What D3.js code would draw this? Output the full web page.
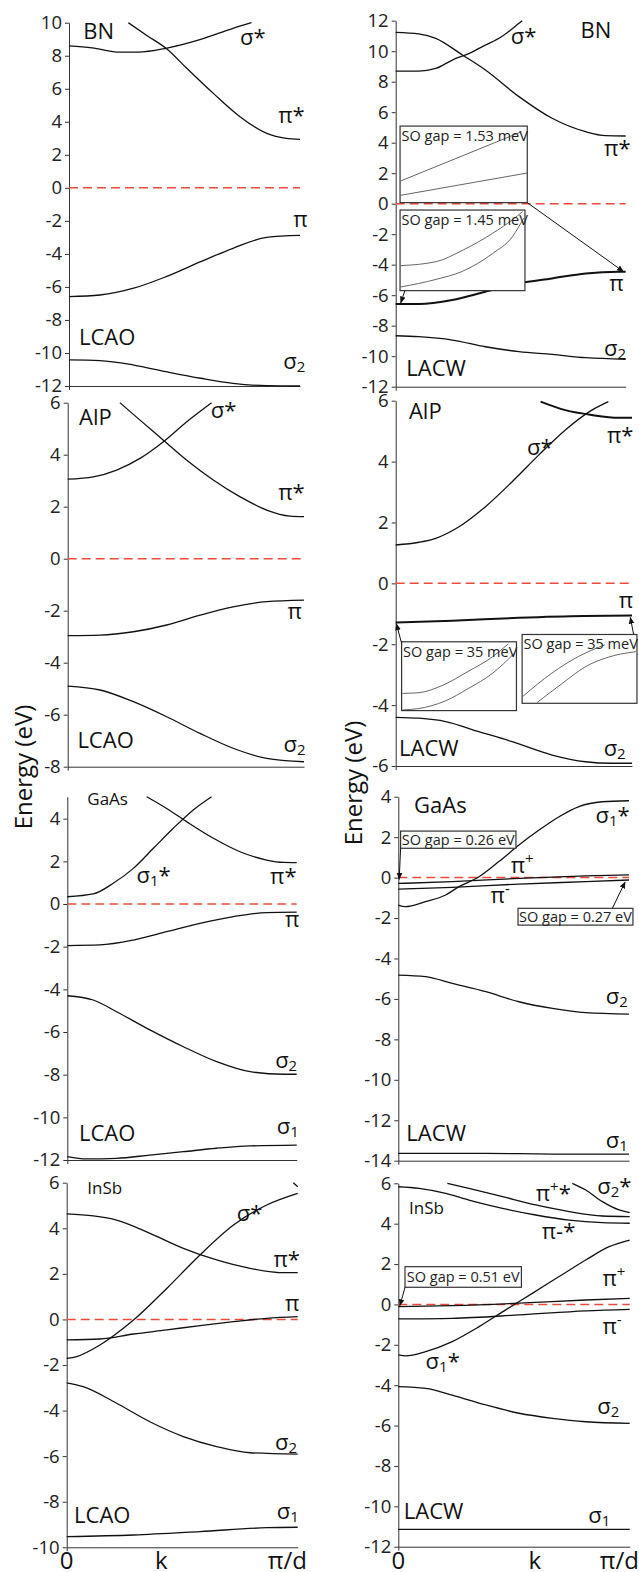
<!doctype html>
<html lang="en">
<head>
<meta charset="utf-8">
<title>Band structures: LCAO vs LACW</title>
<script src="https://cdn.jsdelivr.net/npm/d3@7"></script>
<style>
html, body { margin:0; padding:0; background:#fff; }
svg { display:block; font-family:"Open Sans", sans-serif; }
.band { fill:none; stroke:#111; stroke-width:1.3px; }
.band.thick { stroke-width:2px; }
.fermi { stroke:#ee4b3e; stroke-width:1.5px; stroke-dasharray:9,5; }
.axis path, .axis line { stroke:#333; stroke-width:1px; }
.axis text { font-family:"Open Sans", sans-serif; font-size:18.5px; fill:#222; }
.lbl { fill:#111; }
.lbl.name { font-size:22px; }
.lbl.small { font-size:17px; }
.lbl.band-name { font-size:22px; }
.inset rect, .sobox rect { fill:#fff; stroke:#333; stroke-width:1.2px; }
.inset path { fill:none; stroke:#555; stroke-width:0.9px; }
.inset text { font-size:14.5px; fill:#222; }
.sobox text { font-size:14.5px; fill:#222; }
.arrow { stroke:#111; stroke-width:1px; fill:none; }
.ylab { font-size:24px; fill:#111; }
.xlab { font-size:24px; fill:#111; }
</style>
</head>
<body>
<div id="chart"></div>
<script>
// ---- bands: [k (0..pi/d), E (eV)] ----
// BN, LCAO
const bnL_sigStar = [[0,8.6],[0.1,8.48],[0.22,8.22],[0.3,8.22],[0.42,8.45],[0.57,8.99],[0.71,9.66],[0.79,10]];
const bnL_piStar = [[0.257,10],[0.34,9.2],[0.42,8.45],[0.51,7.24],[0.625,5.72],[0.74,4.31],[0.856,3.3],[0.94,3.0],[1,2.94]];
const bnL_pi = [[0,-6.59],[0.134,-6.49],[0.28,-6.08],[0.42,-5.38],[0.57,-4.47],[0.71,-3.66],[0.856,-3.0],[1,-2.88]];
const bnL_sig2 = [[0,-10.42],[0.134,-10.46],[0.28,-10.73],[0.42,-11.13],[0.57,-11.53],[0.71,-11.84],[0.856,-11.98],[1,-12]];
// BN, LACW
const bnW_sigStar = [[0,8.7],[0.1,8.7],[0.174,8.87],[0.246,9.42],[0.32,9.86],[0.39,10.4],[0.46,10.95],[0.536,11.83],[0.55,12]];
const bnW_piStar = [[0,11.23],[0.1,11.13],[0.174,10.84],[0.29,9.75],[0.39,8.77],[0.536,7.02],[0.68,5.6],[0.826,4.72],[0.913,4.46],[1,4.44]];
const bnW_pi = [[0,-6.58],[0.1,-6.58],[0.246,-6.32],[0.39,-5.77],[0.536,-5.22],[0.68,-4.9],[0.826,-4.57],[0.971,-4.46],[1,-4.46]];
const bnW_sig2 = [[0,-8.66],[0.1,-8.72],[0.246,-8.94],[0.39,-9.38],[0.536,-9.7],[0.68,-9.88],[0.826,-10.1],[1,-10.2]];
// AlP, LCAO
const alpL_sigStar = [[0,3.06],[0.109,3.15],[0.207,3.41],[0.306,3.86],[0.405,4.5],[0.504,5.27],[0.609,6]];
const alpL_piStar = [[0.221,6],[0.306,5.33],[0.405,4.56],[0.504,3.79],[0.616,3.03],[0.73,2.38],[0.842,1.87],[0.94,1.64],[1,1.62]];
const alpL_pi = [[0,-2.96],[0.137,-2.94],[0.278,-2.81],[0.419,-2.55],[0.56,-2.17],[0.7,-1.85],[0.842,-1.65],[1,-1.59]];
const alpL_sig2 = [[0,-4.9],[0.137,-5.05],[0.278,-5.5],[0.419,-6.08],[0.56,-6.72],[0.7,-7.29],[0.842,-7.68],[1,-7.81]];
// AlP, LACW
const alpW_sigStar = [[0,1.26],[0.099,1.35],[0.169,1.48],[0.268,1.86],[0.38,2.52],[0.493,3.34],[0.606,4.22],[0.718,5.04],[0.83,5.69],[0.9,5.97]];
const alpW_piStar = [[0.613,5.97],[0.718,5.69],[0.83,5.53],[0.944,5.44],[1,5.44]];
const alpW_pi = [[0,-1.29],[0.24,-1.23],[0.52,-1.13],[0.8,-1.07],[1,-1.06]];
const alpW_sig2 = [[0,-4.4],[0.099,-4.43],[0.211,-4.54],[0.352,-4.87],[0.493,-5.2],[0.662,-5.64],[0.803,-5.86],[0.915,-5.91],[1,-5.91]];
// GaAs, LCAO
const gaL_sig1Star = [[0,0.34],[0.113,0.47],[0.2,0.97],[0.288,1.67],[0.375,2.61],[0.462,3.55],[0.549,4.41],[0.629,5.03]];
const gaL_piStar = [[0.346,5.03],[0.433,4.48],[0.52,3.86],[0.637,3.08],[0.753,2.45],[0.869,2.06],[0.942,1.95],[1,1.94]];
const gaL_pi = [[0,-1.95],[0.142,-1.92],[0.288,-1.69],[0.433,-1.3],[0.578,-0.91],[0.724,-0.59],[0.869,-0.4],[1,-0.38]];
const gaL_sig2 = [[0,-4.3],[0.113,-4.5],[0.215,-5.05],[0.36,-5.9],[0.506,-6.69],[0.651,-7.39],[0.797,-7.86],[0.942,-7.98],[1,-7.98]];
const gaL_sig1 = [[0,-11.84],[0.084,-11.95],[0.215,-11.92],[0.36,-11.77],[0.506,-11.61],[0.651,-11.45],[0.797,-11.34],[1,-11.3]];
// GaAs, LACW
const gaW_sig1Star = [[0,-1.36],[0.03,-1.44],[0.118,-1.19],[0.205,-0.86],[0.263,-0.45],[0.35,0.04],[0.436,0.79],[0.523,1.61],[0.61,2.35],[0.697,3.01],[0.783,3.51],[0.884,3.75],[1,3.8]];
const gaW_piPlus = [[0,-0.29],[0.234,-0.2],[0.523,-0.04],[0.812,0.08],[1,0.13]];
const gaW_piMinus = [[0,-0.57],[0.234,-0.48],[0.523,-0.32],[0.812,-0.2],[1,-0.12]];
const gaW_sig2 = [[0,-4.82],[0.118,-4.9],[0.234,-5.23],[0.379,-5.64],[0.523,-6.14],[0.668,-6.47],[0.812,-6.68],[1,-6.75]];
const gaW_sig1 = [[0,-13.64],[0.379,-13.64],[0.668,-13.67],[1,-13.67]];
// InSb, LCAO
const inL_sigStar = [[0,-1.71],[0.043,-1.63],[0.144,-1.12],[0.289,-0.03],[0.433,1.36],[0.577,2.83],[0.722,4.14],[0.866,5.02],[1,5.53]];
const inL_top = [[0.981,6],[1,5.82]];
const inL_piStar = [[0,4.63],[0.115,4.54],[0.216,4.36],[0.36,3.78],[0.505,3.12],[0.649,2.61],[0.794,2.24],[0.938,2.05],[1,2.05]];
const inL_pi = [[0,-0.9],[0.144,-0.86],[0.289,-0.64],[0.433,-0.46],[0.577,-0.27],[0.722,-0.1],[0.866,0.05],[1,0.12]];
const inL_sig2 = [[0,-2.78],[0.072,-2.95],[0.216,-3.68],[0.36,-4.49],[0.505,-5.14],[0.649,-5.58],[0.794,-5.85],[1,-5.91]];
const inL_sig1 = [[0,-9.53],[0.289,-9.46],[0.577,-9.31],[0.866,-9.14],[1,-9.12]];
// InSb, LACW
const inW_piMinusStar = [[0,5.83],[0.09,5.75],[0.205,5.5],[0.305,5.17],[0.45,4.76],[0.594,4.43],[0.738,4.18],[0.882,4.05],[1,4.02]];
const inW_piPlusStar = [[0.212,6],[0.305,5.75],[0.45,5.34],[0.594,4.93],[0.738,4.6],[0.882,4.38],[1,4.35]];
const inW_sig2Star = [[0.752,6],[0.81,5.67],[0.882,5.09],[0.954,4.68],[1,4.55]];
const inW_piPlus = [[0,-0.11],[0.233,-0.06],[0.522,0.06],[0.81,0.22],[1,0.3]];
const inW_piMinus = [[0,-0.72],[0.233,-0.69],[0.522,-0.52],[0.81,-0.32],[1,-0.24]];
const inW_sig1Star = [[0,-2.5],[0.032,-2.55],[0.118,-2.34],[0.233,-1.84],[0.349,-1.1],[0.464,-0.27],[0.579,0.55],[0.695,1.38],[0.81,2.2],[0.911,2.86],[1,3.19]];
const inW_sig2 = [[0,-4.07],[0.118,-4.16],[0.233,-4.49],[0.378,-4.98],[0.522,-5.39],[0.666,-5.64],[0.81,-5.81],[1,-5.89]];
const inW_sig1 = [[0,-11.14],[1,-11.14]];

// ---- zoom insets: box [k0,k1,E0,E1], curves in box fractions (0..1, top = 0) ----
const bnInsetA = {box:[0.019,0.572,0.07,5.09], text:"SO gap = 1.53 meV",
  curves:[[[0.005,0.717],[0.955,0.074]], [[0.005,0.904],[1,0.613]]]};
const bnInsetB = {box:[0.019,0.562,-5.70,-0.415], text:"SO gap = 1.45 meV",
  curves:[[[0.005,0.69],[0.29,0.64],[0.5,0.5],[0.74,0.29],[0.9,0.12],[0.98,0.02]],
          [[0.005,0.955],[0.29,0.86],[0.5,0.76],[0.74,0.54],[0.9,0.33],[0.99,0.1]]]};
const alpInsetA = {box:[0.025,0.511,-4.18,-1.92], text:"SO gap = 35 meV",
  curves:[[[0.006,0.75],[0.15,0.74],[0.36,0.63],[0.58,0.43],[0.79,0.22],[0.93,0.03]],
          [[0.006,0.99],[0.15,0.97],[0.38,0.86],[0.58,0.68],[0.79,0.46],[0.98,0.17]]]};
const alpInsetB = {box:[0.535,1.021,-3.94,-1.68], text:"SO gap = 35 meV",
  curves:[[[0.006,0.9],[0.26,0.56],[0.49,0.32],[0.72,0.15]],
          [[0.13,0.99],[0.35,0.71],[0.55,0.47],[0.75,0.33],[0.99,0.25]]]};
// text-only boxes
const gaBoxA = {box:[0.01,0.51,1.45,2.30], text:"SO gap = 0.26 eV"};
const gaBoxB = {box:[0.519,1.017,-2.35,-1.52], text:"SO gap = 0.27 eV"};
const inBoxA = {box:[0.029,0.532,0.85,1.87], text:"SO gap = 0.51 eV"};
// arrows [k from, E from, k to, E to]
const bnArrows = [[0.572,0.07,0.99,-4.45],[0.04,-5.7,0.022,-6.5]];
const alpArrows = [[0.025,-1.97,0.003,-1.33],[1.007,-1.68,0.993,-1.12]];
const gaArrows = [[0.01,1.45,0.004,-0.08],[0.928,-1.52,0.983,-0.22]];
const inArrows = [[0.029,0.85,0.007,-0.06]];

// ---- labels: [text, k, E, class]; _x subscript, ^x superscript ----
const bnL_labels = [["BN",0.062,8.99,"name"],["σ*",0.74,8.65,"band-name"],["π*",0.906,3.9,"band-name"],["π",0.971,-2.35,"band-name"],["LCAO",0.043,-9.52,"name"],["σ_2",0.928,-10.99,"band-name"]];
const bnW_labels = [["σ*",0.5,10.45,"band-name"],["BN",0.804,10.84,"name"],["π*",0.906,3.13,"band-name"],["π",0.928,-5.7,"band-name"],["σ_2",0.906,-10.0,"band-name"],["LACW",0.046,-11.3,"name"]];
const alpL_labels = [["AlP",0.048,5.14,"name"],["σ*",0.605,5.42,"band-name"],["π*",0.891,2.26,"band-name"],["π",0.93,-2.33,"band-name"],["LCAO",0.041,-7.27,"name"],["σ_2",0.913,-7.42,"band-name"]];
const alpW_labels = [["AlP",0.056,5.39,"name"],["σ*",0.556,4.22,"band-name"],["π*",0.894,4.62,"band-name"],["π",0.944,-0.82,"band-name"],["LACW",0.014,-5.67,"name"],["σ_2",0.88,-5.67,"band-name"]];
const gaL_labels = [["GaAs",0.087,4.64,"small"],["σ_1*",0.302,1.0,"band-name"],["π*",0.884,0.94,"band-name"],["π",0.949,-1.09,"band-name"],["σ_2",0.906,-7.67,"band-name"],["LCAO",0.051,-11.09,"name"],["σ_1",0.913,-10.8,"band-name"]];
const gaW_labels = [["GaAs",0.068,3.21,"name"],["σ_1*",0.855,2.68,"band-name"],["π^+",0.487,0.21,"band-name"],["π^-",0.4,-1.27,"band-name"],["σ_2",0.899,-6.27,"band-name"],["LACW",0.035,-13.03,"name"],["σ_1",0.899,-13.36,"band-name"]];
const inL_labels = [["InSb",0.089,5.5,"small"],["σ*",0.736,4.32,"band-name"],["π*",0.895,2.31,"band-name"],["π",0.945,0.37,"band-name"],["σ_2",0.902,-5.73,"band-name"],["LCAO",0.032,-8.92,"name"],["σ_1",0.909,-8.77,"band-name"]];
const inW_labels = [["InSb",0.046,4.48,"small"],["π^+*",0.594,5.12,"band-name"],["σ_2*",0.86,5.47,"band-name"],["π-*",0.62,3.23,"band-name"],["π^+",0.882,0.91,"band-name"],["π^-",0.882,-1.46,"band-name"],["σ_1*",0.118,-3.21,"band-name"],["σ_2",0.86,-5.43,"band-name"],["LACW",0.024,-10.64,"name"],["σ_1",0.821,-10.84,"band-name"]];

// ---- axis ticks ----
const ticksBnL = d3.range(-12, 11, 2);
const ticksBnW = d3.range(-12, 13, 2);
const ticksAlpL = d3.range(-8, 7, 2);
const ticksAlpW = d3.range(-6, 7, 2);
const ticksGaL = d3.range(-12, 5, 2);
const ticksGaW = d3.range(-14, 5, 2);
const ticksInL = d3.range(-10, 7, 2);
const ticksInW = d3.range(-12, 7, 2);

const panels = [
  {x0:69, x1:300, yTop:22.7, yBot:386, dom:[-12,10], ticks:ticksBnL,
   bands:[bnL_sigStar,bnL_piStar,bnL_pi,bnL_sig2], thick:[], labels:bnL_labels},
  {x0:395.7, x1:625.7, yTop:20.7, yBot:386.7, dom:[-12,12], ticks:ticksBnW,
   bands:[bnW_sigStar,bnW_piStar,bnW_sig2], thick:[bnW_pi], labels:bnW_labels,
   insets:[bnInsetA,bnInsetB], arrows:bnArrows},
  {x0:67.7, x1:304, yTop:402.7, yBot:766.7, dom:[-8,6], ticks:ticksAlpL,
   bands:[alpL_sigStar,alpL_piStar,alpL_pi,alpL_sig2], thick:[], labels:alpL_labels},
  {x0:395.7, x1:632, yTop:400.7, yBot:766, dom:[-6,6], ticks:ticksAlpW,
   bands:[alpW_sigStar,alpW_sig2], thick:[alpW_piStar,alpW_pi], labels:alpW_labels,
   insets:[alpInsetA,alpInsetB], arrows:alpArrows},
  {x0:67.3, x1:296.7, yTop:796.7, yBot:1160, dom:[-12,5.03], ticks:ticksGaL,
   bands:[gaL_sig1Star,gaL_piStar,gaL_pi,gaL_sig2,gaL_sig1], thick:[], labels:gaL_labels},
  {x0:398.3, x1:629, yTop:796.7, yBot:1160.7, dom:[-14,4], ticks:ticksGaW,
   bands:[gaW_sig1Star,gaW_piPlus,gaW_piMinus,gaW_sig2,gaW_sig1], thick:[], labels:gaW_labels,
   boxes:[gaBoxA,gaBoxB], arrows:gaArrows},
  {x0:66.7, x1:297.7, yTop:1182.7, yBot:1547.3, dom:[-10,6], ticks:ticksInL,
   bands:[inL_sigStar,inL_top,inL_piStar,inL_pi,inL_sig2,inL_sig1], thick:[], labels:inL_labels,
   xlabels:true, kAt:0.41},
  {x0:398.3, x1:629.7, yTop:1183.3, yBot:1546.7, dom:[-12,6], ticks:ticksInW,
   bands:[inW_piMinusStar,inW_piPlusStar,inW_sig2Star,inW_piPlus,inW_piMinus,inW_sig1Star,inW_sig2,inW_sig1], thick:[], labels:inW_labels,
   boxes:[inBoxA], arrows:inArrows, xlabels:true, kAt:0.59}
];

const W = 639, H = 1572;
const svg = d3.select("#chart").append("svg").attr("width", W).attr("height", H);
svg.append("rect").attr("width", W).attr("height", H).attr("fill", "#fff");
svg.append("defs").append("marker")
  .attr("id", "ah").attr("viewBox", "0 0 10 10").attr("refX", 9).attr("refY", 5)
  .attr("markerWidth", 7).attr("markerHeight", 7).attr("orient", "auto")
  .append("path").attr("d", "M0,1L10,5L0,9z").attr("fill", "#111");

// text with sub/superscripts
function richText(sel, s) {
  let shift = 0;
  for (let i = 0; i < s.length; i++) {
    let ch = s[i], kind = "";
    if ((ch === "_" || ch === "^") && i + 1 < s.length) { kind = ch; ch = s[++i]; }
    const target = kind === "_" ? 3 : kind === "^" ? -9 : 0;
    const t = sel.append("tspan").attr("dy", target - shift).text(ch);
    if (kind) t.style("font-size", "68%");
    shift = target;
  }
}

panels.forEach(p => {
  const x = d3.scaleLinear().domain([0, 1]).range([p.x0, p.x1]);
  const y = d3.scaleLinear().domain(p.dom).range([p.yBot, p.yTop]);
  const g = svg.append("g");

  g.append("g").attr("class", "axis").attr("transform", `translate(${p.x0},0)`)
    .call(d3.axisLeft(y).tickValues(p.ticks).tickSize(4).tickSizeOuter(0).tickPadding(3).tickFormat(d => String(d)));
  g.append("g").attr("class", "axis").attr("transform", `translate(0,${p.yBot})`)
    .call(d3.axisBottom(x).tickValues([0]).tickSize(4).tickSizeOuter(0).tickFormat(""));

  g.append("line").attr("class", "fermi")
    .attr("x1", x(0)).attr("x2", x(1)).attr("y1", y(0)).attr("y2", y(0));

  const line = d3.line().x(d => x(d[0])).y(d => y(d[1])).curve(d3.curveMonotoneX);
  g.selectAll("path.band.thin").data(p.bands).join("path")
    .attr("class", "band thin").attr("d", line);
  g.selectAll("path.band.thick").data(p.thick).join("path")
    .attr("class", "band thick").attr("d", line);

  (p.insets || []).forEach(ins => {
    const [k0, k1, e0, e1] = ins.box;
    const bx = x(k0), by = y(e1), bw = x(k1) - x(k0), bh = y(e0) - y(e1);
    const ig = g.append("g").attr("class", "inset");
    ig.append("rect").attr("x", bx).attr("y", by).attr("width", bw).attr("height", bh);
    const u = d3.scaleLinear().range([bx, bx + bw]);
    const v = d3.scaleLinear().range([by, by + bh]);
    const il = d3.line().x(d => u(d[0])).y(d => v(d[1])).curve(d3.curveMonotoneX);
    ig.selectAll("path").data(ins.curves).join("path").attr("d", il);
    ig.append("text").attr("x", bx + 1.5).attr("y", by + 15).text(ins.text);
  });

  (p.boxes || []).forEach(b => {
    const [k0, k1, e0, e1] = b.box;
    const bx = x(k0), by = y(e1), bw = x(k1) - x(k0), bh = y(e0) - y(e1);
    const bg = g.append("g").attr("class", "sobox");
    bg.append("rect").attr("x", bx).attr("y", by).attr("width", bw).attr("height", bh);
    bg.append("text").attr("x", bx + bw / 2).attr("y", by + bh / 2 + 5)
      .attr("text-anchor", "middle").text(b.text);
  });

  g.selectAll("line.arrow").data(p.arrows || []).join("line")
    .attr("class", "arrow")
    .attr("x1", d => x(d[0])).attr("y1", d => y(d[1]))
    .attr("x2", d => x(d[2])).attr("y2", d => y(d[3]))
    .attr("marker-end", "url(#ah)");

  p.labels.forEach(([s, k, e, cls]) => {
    const t = g.append("text").attr("class", "lbl " + cls).attr("x", x(k)).attr("y", y(e));
    richText(t, s);
  });

  if (p.xlabels) {
    const yb = 1569;
    g.append("text").attr("class", "xlab").attr("x", x(0)).attr("y", yb).attr("text-anchor", "middle").text("0");
    g.append("text").attr("class", "xlab").attr("x", x(p.kAt)).attr("y", yb).attr("text-anchor", "middle").text("k");
    g.append("text").attr("class", "xlab").attr("x", x(1.04)).attr("y", yb).attr("text-anchor", "end").text("π/d");
  }
});

// y axis titles
svg.append("text").attr("class", "ylab").attr("text-anchor", "middle")
  .attr("transform", "translate(32,767) rotate(-90)").text("Energy (eV)");
svg.append("text").attr("class", "ylab").attr("text-anchor", "middle")
  .attr("transform", "translate(362,783) rotate(-90)").text("Energy (eV)");
</script>
</body>
</html>
